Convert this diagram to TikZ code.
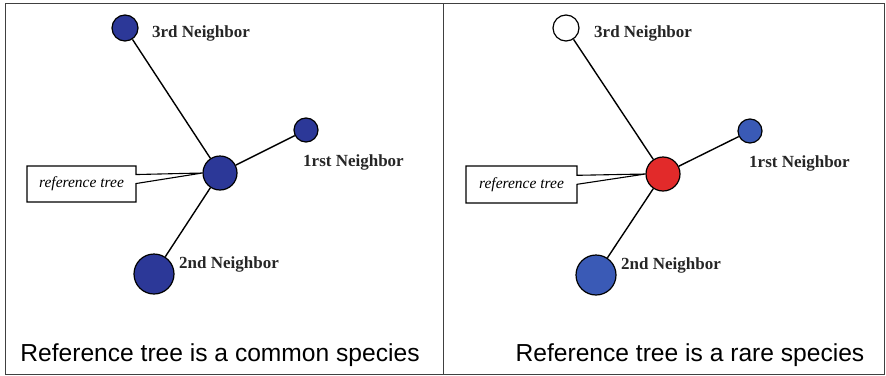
\documentclass[tikz,border=0pt]{standalone}
\usepackage{fontspec}
\setmainfont{Liberation Serif}
\setsansfont{Liberation Sans}
\usepackage{xcolor}
\usetikzlibrary{shapes.callouts}

\definecolor{commonblue}{RGB}{44,56,152}
\definecolor{rareblue}{RGB}{58,90,182}
\definecolor{refred}{RGB}{226,42,42}

\begin{document}
\begin{tikzpicture}[
    x=1pt, y=-1pt,
    tree/.style={circle, draw=black, line width=1.2pt, inner sep=0pt},
    nbrlabel/.style={anchor=west, inner sep=0pt, font=\fontsize{17}{19}\selectfont\bfseries, text=black!85},
    refbox/.style={rectangle callout, draw=black, line width=1.1pt, fill=white, inner sep=0pt, callout pointer width=9pt, font=\fontsize{15.5}{17}\selectfont\itshape},
    link/.style={line width=1.4pt, black},
    caption/.style={font=\sffamily\fontsize{24.6}{27}\selectfont}
]
\useasboundingbox (0,0) rectangle (886,375);

% Frame
\draw[line width=0.9pt, black!75] (5,3) rectangle (884,374);
\draw[line width=0.9pt, black!75] (443,3) -- (443,374);

% Left panel: common species
\node[tree, fill=commonblue, minimum size=34pt] (c0) at (220,173) {};
\node[tree, fill=commonblue, minimum size=24pt] (c1) at (306,130) {};
\node[tree, fill=commonblue, minimum size=40pt] (c2) at (154,274) {};
\node[tree, fill=commonblue, minimum size=26pt] (c3) at (125,28) {};

\draw[link] (c0) -- (c1);
\draw[link] (c0) -- (c2);
\draw[link] (c0) -- (c3);

\node[nbrlabel] (c1lab) at (303,162) {1rst Neighbor};
\node[nbrlabel] (c2lab) at (179,264) {2nd Neighbor};
\node[nbrlabel] (c3lab) at (152,33) {3rd Neighbor};

\node[refbox, minimum width=109pt, minimum height=36pt, callout absolute pointer={(c0.west)}] (cref) at (81.5,184) {reference tree};

\node[caption] (ccap) at (220,355) {Reference tree is a common species};

% Right panel: rare species
\node[tree, fill=refred, minimum size=34pt] (r0) at (663,174) {};
\node[tree, fill=rareblue, minimum size=24pt] (r1) at (750,131) {};
\node[tree, fill=rareblue, minimum size=40pt] (r2) at (596,275) {};
\node[tree, fill=white, minimum size=26pt] (r3) at (566,28) {};

\draw[link] (r0) -- (r1);
\draw[link] (r0) -- (r2);
\draw[link] (r0) -- (r3);

\node[nbrlabel] (r1lab) at (749,163) {1rst Neighbor};
\node[nbrlabel] (r2lab) at (621,265) {2nd Neighbor};
\node[nbrlabel] (r3lab) at (594,33) {3rd Neighbor};

\node[refbox, minimum width=111pt, minimum height=37pt, callout absolute pointer={(r0.west)}] (rref) at (521.5,184.5) {reference tree};

\node[caption] (rcap) at (690,355) {Reference tree is a rare species};

\end{tikzpicture}
\end{document}
